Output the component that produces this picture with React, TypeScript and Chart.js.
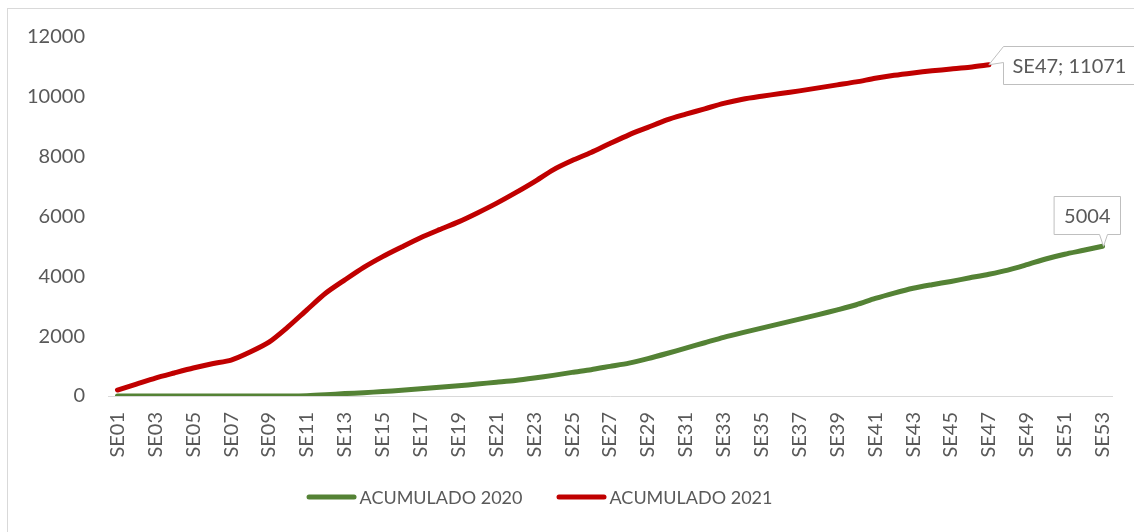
import React, { useEffect, useRef } from "react";
import { Chart, registerables } from "chart.js";

Chart.register(...registerables);

// ---- data ----
const weeks = [
  "SE01", "SE02", "SE03", "SE04", "SE05", "SE06", "SE07", "SE08", "SE09", "SE10",
  "SE11", "SE12", "SE13", "SE14", "SE15", "SE16", "SE17", "SE18", "SE19", "SE20",
  "SE21", "SE22", "SE23", "SE24", "SE25", "SE26", "SE27", "SE28", "SE29", "SE30",
  "SE31", "SE32", "SE33", "SE34", "SE35", "SE36", "SE37", "SE38", "SE39", "SE40",
  "SE41", "SE42", "SE43", "SE44", "SE45", "SE46", "SE47", "SE48", "SE49", "SE50",
  "SE51", "SE52", "SE53",
];

const acumulado2020 = [
  0, 0, 0, 0, 0, 0, 0, 0, 0, 0,
  10, 40, 80, 110, 150, 190, 240, 290, 340, 400,
  460, 520, 600, 690, 790, 880, 990, 1100, 1250, 1420,
  1600, 1780, 1960, 2120, 2270, 2420, 2570, 2720, 2880, 3050,
  3260, 3440, 3600, 3720, 3830, 3950, 4070, 4210, 4390, 4580,
  4740, 4870, 5004,
];

const acumulado2021: (number | null)[] = [
  200, 400, 600, 770, 935, 1080, 1200, 1470, 1800, 2310,
  2880, 3440, 3880, 4300, 4660, 4980, 5290, 5560, 5820, 6120,
  6440, 6790, 7160, 7560, 7870, 8140, 8440, 8730, 8980, 9230,
  9420, 9600, 9780, 9920, 10020, 10110, 10200, 10300, 10400, 10500,
  10620, 10720, 10800, 10870, 10930, 10990, 11071, null, null, null,
  null, null, null,
];

const seriesLabels = ["ACUMULADO 2020", "ACUMULADO 2021"];
const yMin = 0;
const yMax = 12000;
const yStep = 2000;

// ---- styles ----
const COLORS = ["#548235", "#C00000"];
const TEXT = "#595959";
const FONT = "Lato";

function lastIndex(arr: (number | null)[]) {
  for (let i = arr.length - 1; i >= 0; i--) if (arr[i] != null) return i;
  return -1;
}

const calloutPlugin = {
  id: "callouts",
  afterDatasetsDraw(chart: any) {
    const ctx = chart.ctx as CanvasRenderingContext2D;
    ctx.save();
    ctx.font = `20px ${FONT}`;
    ctx.textBaseline = "middle";
    ctx.lineWidth = 1;
    ctx.strokeStyle = "#BFBFBF";

    // 2021 callout (right of point)
    {
      const data = chart.data.datasets[1].data as (number | null)[];
      const i = lastIndex(data);
      const pt = chart.getDatasetMeta(1).data[i];
      const text = `${chart.data.labels[i]}; ${data[i]}`;
      const tw = ctx.measureText(text).width;
      const left = Math.round(pt.x + 14) + 0.5;
      const h = 38;
      const top = Math.round(pt.y - h / 2) + 0.5;
      const right = left + tw + 18;
      const bottom = top + h;
      ctx.beginPath();
      ctx.moveTo(left, top);
      ctx.lineTo(right, top);
      ctx.lineTo(right, bottom);
      ctx.lineTo(left, bottom);
      ctx.lineTo(left, top + 16);
      ctx.lineTo(pt.x, pt.y);
      ctx.closePath();
      ctx.fillStyle = "#FFFFFF";
      ctx.fill();
      ctx.stroke();
      ctx.fillStyle = TEXT;
      ctx.textAlign = "left";
      ctx.fillText(text, left + 9, (top + bottom) / 2 + 1);
    }

    // 2020 callout (above point)
    {
      const data = chart.data.datasets[0].data as number[];
      const i = lastIndex(data);
      const pt = chart.getDatasetMeta(0).data[i];
      const text = `${data[i]}`;
      const tw = ctx.measureText(text).width;
      const w = tw + 20;
      const h = 38;
      const right = Math.round(pt.x + 17) + 0.5;
      const left = right - w;
      const bottom = Math.round(pt.y - 12) + 0.5;
      const top = bottom - h;
      ctx.beginPath();
      ctx.moveTo(left, top);
      ctx.lineTo(right, top);
      ctx.lineTo(right, bottom);
      ctx.lineTo(pt.x + 5, bottom);
      ctx.lineTo(pt.x + 1, pt.y);
      ctx.lineTo(pt.x - 3, bottom);
      ctx.lineTo(left, bottom);
      ctx.closePath();
      ctx.fillStyle = "#FFFFFF";
      ctx.fill();
      ctx.stroke();
      ctx.fillStyle = TEXT;
      ctx.textAlign = "center";
      ctx.fillText(text, (left + right) / 2, (top + bottom) / 2 + 1);
    }
    ctx.restore();
  },
};

const legendPlugin = {
  id: "customLegend",
  afterDraw(chart: any) {
    const ctx = chart.ctx as CanvasRenderingContext2D;
    ctx.save();
    ctx.font = `18px ${FONT}`;
    ctx.textBaseline = "middle";
    ctx.textAlign = "left";
    const items = chart.data.datasets.map((ds: any) => ({
      text: ds.label as string,
      color: ds.borderColor as string,
      w: ctx.measureText(ds.label).width,
    }));
    const boxW = 50;
    const gap = 3;
    const spacing = 34;
    const total =
      items.reduce((s: number, it: any) => s + boxW + gap + it.w, 0) +
      spacing * (items.length - 1);
    let x = 531.5 - total / 2;
    const y = 488;
    items.forEach((it: any) => {
      ctx.strokeStyle = it.color;
      ctx.lineWidth = 5;
      ctx.lineCap = "round";
      ctx.beginPath();
      ctx.moveTo(x + 2.5, y);
      ctx.lineTo(x + boxW - 2.5, y);
      ctx.stroke();
      ctx.fillStyle = TEXT;
      ctx.fillText(it.text, x + boxW + gap, y + 1);
      x += boxW + gap + it.w + spacing;
    });
    ctx.restore();
  },
};

export default function App() {
  const canvasRef = useRef<HTMLCanvasElement | null>(null);

  useEffect(() => {
    if (!canvasRef.current) return;
    Chart.defaults.font.family = FONT;
    const chart = new Chart(canvasRef.current, {
      type: "line",
      data: {
        labels: weeks,
        datasets: [
          {
            label: seriesLabels[0],
            data: acumulado2020,
            borderColor: COLORS[0],
            backgroundColor: COLORS[0],
            borderWidth: 5,
            pointRadius: 0,
            tension: 0.25,
            borderCapStyle: "round",
            borderJoinStyle: "round",
          },
          {
            label: seriesLabels[1],
            data: acumulado2021,
            borderColor: COLORS[1],
            backgroundColor: COLORS[1],
            borderWidth: 5,
            pointRadius: 0,
            tension: 0.25,
            borderCapStyle: "round",
            borderJoinStyle: "round",
          },
        ],
      },
      options: {
        animation: false,
        responsive: true,
        maintainAspectRatio: false,
        layout: { padding: { left: 0, right: 22, top: 28, bottom: 70 } },
        plugins: {
          legend: { display: false },
          tooltip: { enabled: false },
        },
        scales: {
          x: {
            offset: true,
            grid: { display: false, drawTicks: false },
            border: { display: true, color: "#D9D9D9", width: 1 },
            ticks: {
              autoSkip: false,
              minRotation: 90,
              maxRotation: 90,
              padding: 16,
              color: TEXT,
              font: { size: 20, family: FONT },
              callback: (_v: any, i: number) => (i % 2 === 0 ? weeks[i] : ""),
            },
            afterFit: (scale: any) => {
              scale.height = 66;
              scale.paddingLeft = 0;
              scale.paddingRight = 0;
            },
          },
          y: {
            min: yMin,
            max: yMax,
            grid: { display: false, drawTicks: false },
            border: { display: false },
            ticks: {
              stepSize: yStep,
              padding: 23,
              color: TEXT,
              font: { size: 20, family: FONT },
              callback: (v: any) => String(v),
            },
            afterFit: (scale: any) => {
              scale.width = 100;
              scale.paddingTop = 0;
              scale.paddingBottom = 0;
            },
          },
        },
      },
      plugins: [calloutPlugin, legendPlugin],
    });
    return () => chart.destroy();
  }, []);

  return (
    <div
      style={{
        position: "fixed",
        left: 7,
        top: 8,
        width: 1127,
        height: 524,
        borderLeft: "1px solid #D9D9D9",
        borderTop: "1px solid #D9D9D9",
        background: "#FFFFFF",
      }}
    >
      <div style={{ position: "relative", width: 1126, height: 523 }}>
        <canvas ref={canvasRef} />
      </div>
    </div>
  );
}
